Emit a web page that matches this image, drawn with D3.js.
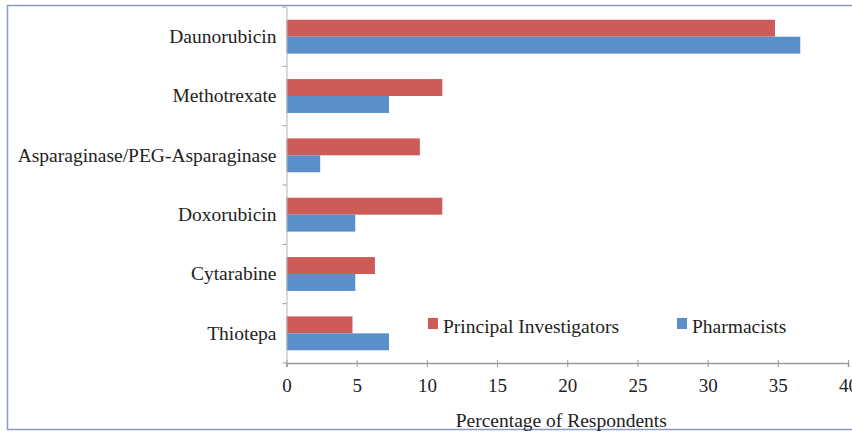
<!DOCTYPE html>
<html lang="en">
<head>
<meta charset="UTF-8">
<title>Percentage of Respondents</title>
<style>
    body { margin: 0; background: #fff; }
    svg { display: block; }
    text { font-family: "Liberation Serif", "Times New Roman", serif; fill: #222; }
</style>
</head>
<body>
<svg id="chart"></svg>
<script src="https://cdnjs.cloudflare.com/ajax/libs/d3/7.9.0/d3.min.js"></script>
<script>
    // data
    const categories = ["Daunorubicin", "Methotrexate", "Asparaginase/PEG-Asparaginase", "Doxorubicin", "Cytarabine", "Thiotepa"];
    const seriesNames = ["Principal Investigators", "Pharmacists"];
    const investigators = [34.8, 11.1, 9.5, 11.1, 6.3, 4.7];
    const pharmacists = [36.6, 7.3, 2.4, 4.9, 4.9, 7.3];
    const xTicks = [0, 5, 10, 15, 20, 25, 30, 35, 40];

    const colors = ["#cd5c59", "#5b8fcb"];
    const rows = categories.map((c, i) => ({ name: c, values: [investigators[i], pharmacists[i]] }));

    const w = 852, h = 432;
    const plotLeft = 286.5, plotRight = 848, plotTop = 7, plotBottom = 363;

    const svg = d3.select("#chart").attr("width", w).attr("height", h);

    // outer frame
    svg.append("rect")
        .attr("x", 7.5).attr("y", 5.5)
        .attr("width", w).attr("height", 424)
        .attr("fill", "none")
        .attr("stroke", "#8a9bbd")
        .attr("stroke-width", 1.5);

    const x = d3.scaleLinear().domain([0, 40]).range([plotLeft, plotRight]);
    const y0 = d3.scaleBand().domain(categories).range([plotTop, plotBottom]);
    const y1 = d3.scaleBand().domain([0, 1]).range([0, y0.bandwidth()]).paddingOuter(0.75);

    // bars
    const groups = svg.append("g").selectAll("g")
        .data(rows)
        .enter().append("g")
        .attr("transform", d => "translate(0," + y0(d.name) + ")");

    groups.selectAll("rect")
        .data(d => d.values)
        .enter().append("rect")
        .attr("x", x(0))
        .attr("y", (d, i) => y1(i))
        .attr("width", d => x(d) - x(0))
        .attr("height", y1.bandwidth())
        .attr("fill", (d, i) => colors[i]);

    // x axis
    const xAxis = svg.append("g")
        .attr("transform", "translate(0," + plotBottom + ")")
        .call(d3.axisBottom(x).tickValues(xTicks).tickSize(4).tickPadding(12).tickFormat(d3.format("d")));
    xAxis.select(".domain").attr("stroke", "#9a9a9a").attr("stroke-width", 1.5);
    xAxis.selectAll(".tick line").attr("stroke", "#9a9a9a").attr("y1", -3);
    xAxis.selectAll(".tick text").attr("font-size", "19px").attr("font-family", "Liberation Serif, serif").attr("fill", "#222");

    // y axis
    const yAxis = svg.append("g")
        .attr("transform", "translate(" + plotLeft + ",0)")
        .call(d3.axisLeft(y0).tickSize(0).tickPadding(10));
    yAxis.select(".domain").attr("stroke", "#b5b5b5");
    yAxis.selectAll(".tick text").attr("font-size", "19.5px").attr("font-family", "Liberation Serif, serif").attr("fill", "#222");
    // boundary ticks between categories
    yAxis.selectAll(".sep")
        .data(d3.range(categories.length + 1))
        .enter().append("line")
        .attr("x1", -4).attr("x2", 0)
        .attr("y1", i => plotTop + i * y0.step())
        .attr("y2", i => plotTop + i * y0.step())
        .attr("stroke", "#9a9a9a");

    // axis title
    svg.append("text")
        .attr("x", (plotLeft + plotRight) / 2 - 6)
        .attr("y", 427)
        .attr("text-anchor", "middle")
        .attr("font-size", "19.5px")
        .text("Percentage of Respondents");

    // legend
    const legendX = [428, 677];
    const legend = svg.append("g").selectAll("g")
        .data(seriesNames)
        .enter().append("g")
        .attr("transform", (d, i) => "translate(" + legendX[i] + ",318)");
    legend.append("rect")
        .attr("width", 10).attr("height", 11)
        .attr("fill", (d, i) => colors[i]);
    legend.append("text")
        .attr("x", 15).attr("y", 15)
        .attr("font-size", "19.5px")
        .text(d => d);
</script>
</body>
</html>
